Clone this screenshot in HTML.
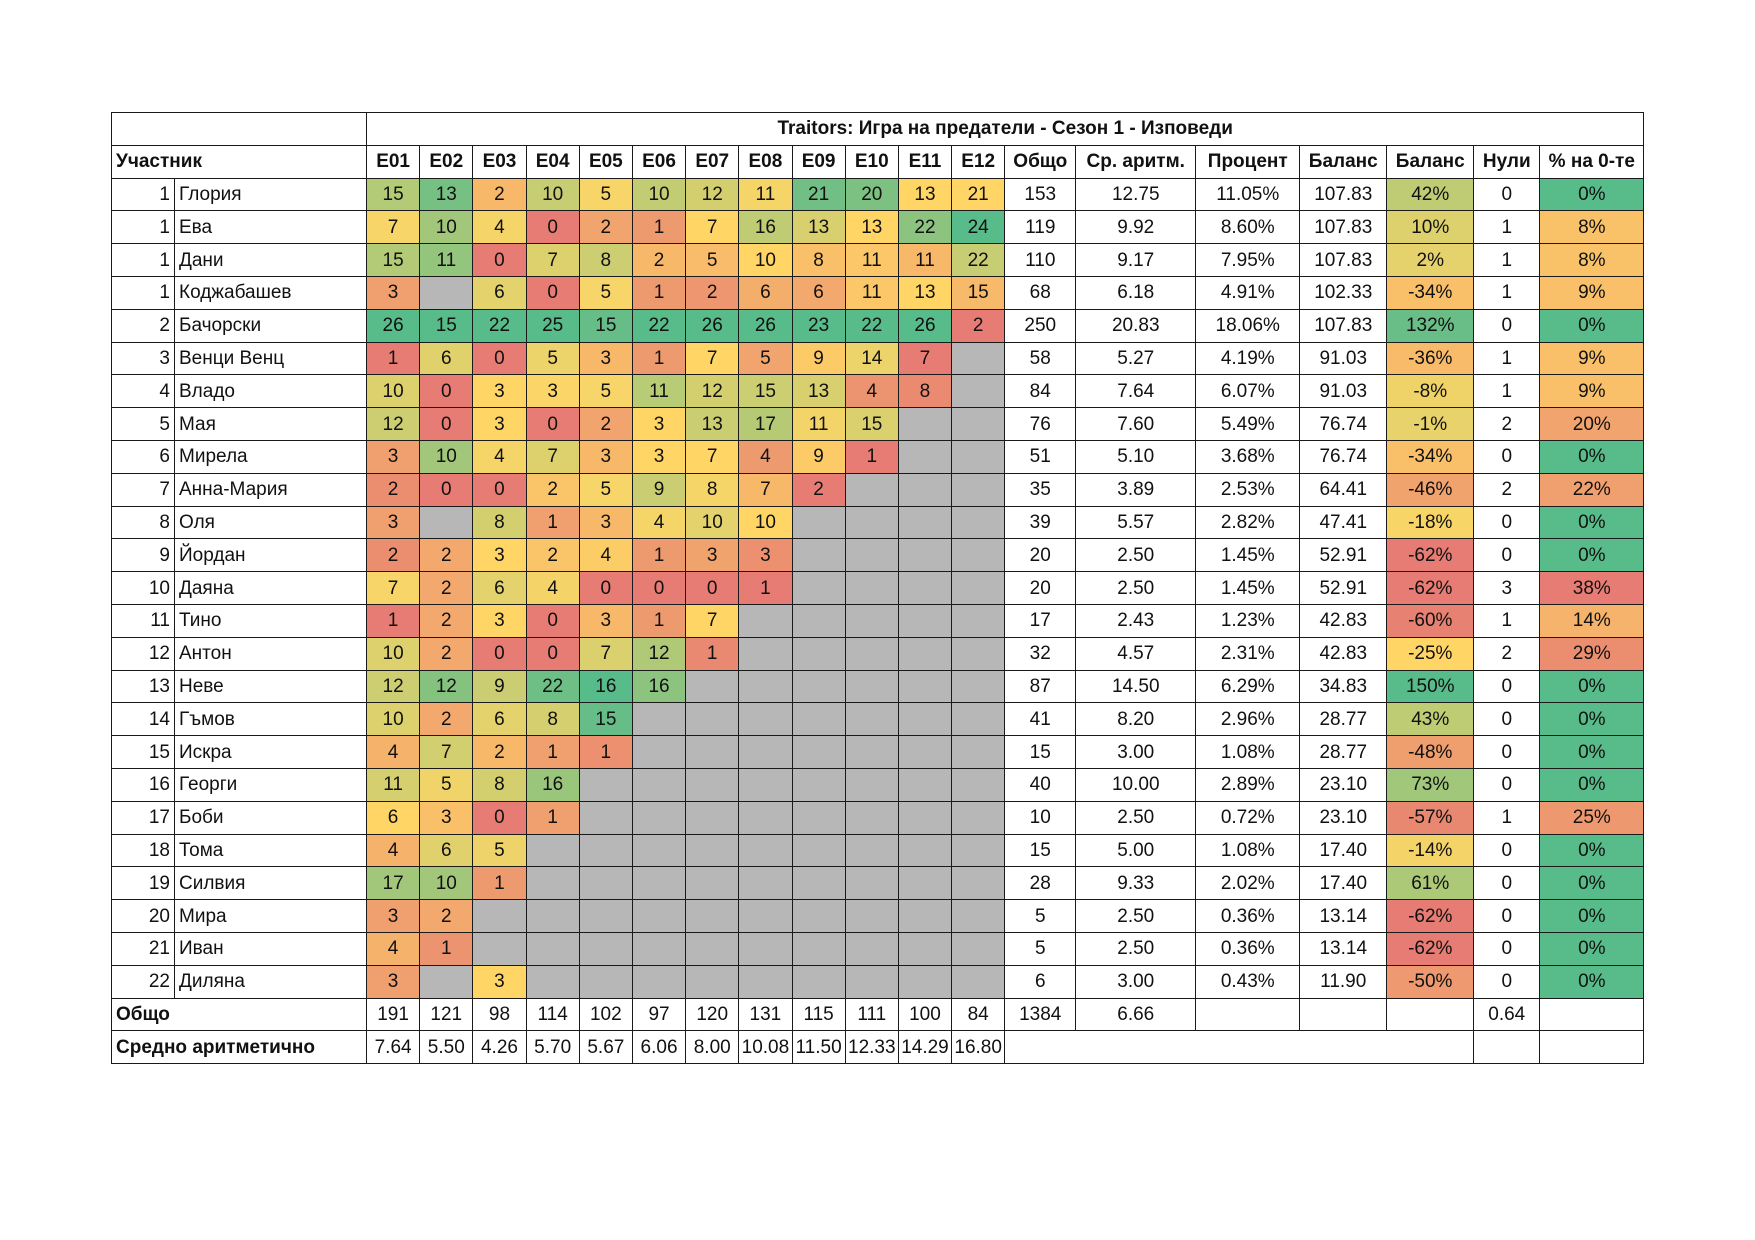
<!DOCTYPE html>
<html><head><meta charset="utf-8"><style>
html,body{margin:0;padding:0;background:#fff;width:1755px;height:1240px;overflow:hidden}
table{position:absolute;left:111px;top:112px;border-collapse:collapse;table-layout:fixed;font-family:"Liberation Sans","Noto Sans CJK SC",sans-serif;font-size:19px;color:#111}
td{border:1.5px solid #1a1a1a;padding:0 4px;text-align:center;white-space:nowrap;overflow:hidden;height:31px;line-height:31px}
.b{font-weight:bold}
.l{text-align:left}
.r{text-align:right}
.g{background:#b7b7b7}
</style></head><body>
<table id="t"><colgroup id="cg"></colgroup><tbody id="tb"></tbody></table>
<script>
const ranks=[1,1,1,1,2,3,4,5,6,7,8,9,10,11,12,13,14,15,16,17,18,19,20,21,22];
const names=["Глория","Ева","Дани","Коджабашев","Бачорски","Венци Венц","Владо","Мая","Мирела","Анна-Мария","Оля","Йордан","Даяна","Тино","Антон","Неве","Гъмов","Искра","Георги","Боби","Тома","Силвия","Мира","Иван","Диляна"];
const episodes=[
[15,13,2,10,5,10,12,11,21,20,13,21],
[7,10,4,0,2,1,7,16,13,13,22,24],
[15,11,0,7,8,2,5,10,8,11,11,22],
[3,null,6,0,5,1,2,6,6,11,13,15],
[26,15,22,25,15,22,26,26,23,22,26,2],
[1,6,0,5,3,1,7,5,9,14,7],
[10,0,3,3,5,11,12,15,13,4,8],
[12,0,3,0,2,3,13,17,11,15],
[3,10,4,7,3,3,7,4,9,1],
[2,0,0,2,5,9,8,7,2],
[3,null,8,1,3,4,10,10],
[2,2,3,2,4,1,3,3],
[7,2,6,4,0,0,0,1],
[1,2,3,0,3,1,7],
[10,2,0,0,7,12,1],
[12,12,9,22,16,16],
[10,2,6,8,15],
[4,7,2,1,1],
[11,5,8,16],
[6,3,0,1],
[4,6,5],
[17,10,1],
[3,2],
[4,1],
[3,null,3]];
const totals=[153,119,110,68,250,58,84,76,51,35,39,20,20,17,32,87,41,15,40,10,15,28,5,5,6];
const avgs=["12.75","9.92","9.17","6.18","20.83","5.27","7.64","7.60","5.10","3.89","5.57","2.50","2.50","2.43","4.57","14.50","8.20","3.00","10.00","2.50","5.00","9.33","2.50","2.50","3.00"];
const pcts=["11.05%","8.60%","7.95%","4.91%","18.06%","4.19%","6.07%","5.49%","3.68%","2.53%","2.82%","1.45%","1.45%","1.23%","2.31%","6.29%","2.96%","1.08%","2.89%","0.72%","1.08%","2.02%","0.36%","0.36%","0.43%"];
const balances=["107.83","107.83","107.83","102.33","107.83","91.03","91.03","76.74","76.74","64.41","47.41","52.91","52.91","42.83","42.83","34.83","28.77","28.77","23.10","23.10","17.40","17.40","13.14","13.14","11.90"];
const balPct=[42,10,2,-34,132,-36,-8,-1,-34,-46,-18,-62,-62,-60,-25,150,43,-48,73,-57,-14,61,-62,-62,-50];
const zeros=[0,1,1,1,0,1,1,2,0,2,0,0,3,1,2,0,0,0,0,1,0,0,0,0,0];
const zeroPct=[0,8,8,9,0,9,9,20,0,22,0,0,38,14,29,0,0,0,0,25,0,0,0,0,0];
const epTotals=[191,121,98,114,102,97,120,131,115,111,100,84];
const epAvgs=["7.64","5.50","4.26","5.70","5.67","6.06","8.00","10.08","11.50","12.33","14.29","16.80"];
const headers=["E01","E02","E03","E04","E05","E06","E07","E08","E09","E10","E11","E12"];

const widths=[63,192].concat(Array(12).fill(53.2)).concat([71,120,104,87,87,66,104]);
const cg=document.getElementById('cg');
widths.forEach(w=>{const c=document.createElement('col');c.style.width=w+'px';cg.appendChild(c);});
document.getElementById('t').style.width=widths.reduce((a,b)=>a+b,0)+'px';

const RED=[230,124,115],YEL=[255,214,102],GRN=[87,187,138];
function mix(a,b,t){return 'rgb('+a.map((v,i)=>Math.round(v+(b[i]-v)*t)).join(',')+')';}
function median(arr){const s=arr.slice().sort((a,b)=>a-b);const n=s.length;return n%2?s[(n-1)/2]:(s[n/2-1]+s[n/2])/2;}
function scale(vals){const mn=Math.min(...vals),mx=Math.max(...vals),md=median(vals);
 return v=>{if(v<=md){const t=md===mn?1:(v-mn)/(md-mn);return mix(RED,YEL,t);}const t=mx===md?0:(v-md)/(mx-md);return mix(YEL,GRN,t);};}
const epScales=headers.map((h,j)=>scale(episodes.map(r=>r[j]).filter(v=>v!=null&&v!==undefined)));
const balScale=scale(balPct);
const zmax=Math.max(...zeroPct);
function zColor(v){if(v===0)return mix(GRN,GRN,0);return mix(YEL,RED,Math.min(1,(v)/zmax*1.05));}

const tb=document.getElementById('tb');
function row(){const tr=document.createElement('tr');tb.appendChild(tr);return tr;}
function cell(tr,txt,cls,name,span){const td=document.createElement('td');td.textContent=txt;if(cls)td.className=cls;if(span)td.colSpan=span;
 
 
 tr.appendChild(td);return td;}

let tr=row();
cell(tr,'','', 'title-blank',2);
cell(tr,'Traitors: Игра на предатели - Сезон 1 - Изповеди','b','table-title',19);
tr=row();
cell(tr,'Участник','b l','header-participant',2);
headers.forEach(h=>cell(tr,h,'b','header-'+h.toLowerCase()));
['Общо','Ср. аритм.','Процент','Баланс','Баланс','Нули','% на 0-те'].forEach((h,i)=>cell(tr,h,'b','header-stat-'+i));
names.forEach((nm,i)=>{
 const r=row();
 cell(r,ranks[i],'r','rank-cell');
 cell(r,nm,'l','participant-name');
 for(let j=0;j<12;j++){const v=episodes[i][j];
  if(v===null||v===undefined){cell(r,'','g','empty-episode-cell');}
  else{const td=cell(r,v,'','episode-value');td.style.background=epScales[j](v);}
 }
 cell(r,totals[i],'','total-cell');
 cell(r,avgs[i],'','average-cell');
 cell(r,pcts[i],'','percent-cell');
 cell(r,balances[i],'','balance-cell');
 const bt=cell(r,balPct[i]+'%','','balance-percent-cell');bt.style.background=balScale(balPct[i]);
 cell(r,zeros[i],'','zeros-cell');
 const zt=cell(r,zeroPct[i]+'%','','zero-percent-cell');zt.style.background=zColor(zeroPct[i]);
});
tr=row();
cell(tr,'Общо','b l','totals-label',2);
epTotals.forEach(v=>cell(tr,v,'','episode-total'));
cell(tr,'1384','','grand-total');cell(tr,'6.66','','grand-average');
cell(tr,'','','empty');cell(tr,'','','empty');cell(tr,'','','empty');
cell(tr,'0.64','','zeros-average');cell(tr,'','','empty');
tr=row();
cell(tr,'Средно аритметично','b l','averages-label',2);
epAvgs.forEach(v=>{const td=cell(tr,v,'','episode-average');td.style.padding='0';});
cell(tr,'','','empty',5);cell(tr,'','','empty');cell(tr,'','','empty');
document.querySelectorAll('tr').forEach(r=>r.style.height='32.8px');
</script>
</body></html>
